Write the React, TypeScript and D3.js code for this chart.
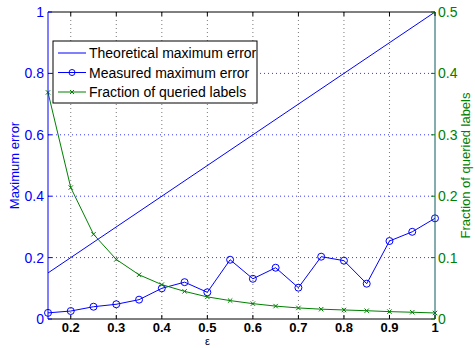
import { useEffect, useRef } from 'react';
import * as d3 from 'd3';

// epsilon values along the x axis
const epsilons = [0.15, 0.2, 0.25, 0.3, 0.35, 0.4, 0.45, 0.5, 0.55, 0.6, 0.65, 0.7, 0.75, 0.8, 0.85, 0.9, 0.95, 1.0];
const measuredError = [0.02, 0.026, 0.04, 0.048, 0.063, 0.1, 0.12, 0.087, 0.193, 0.131, 0.167, 0.102, 0.203, 0.19, 0.115, 0.254, 0.284, 0.328];
const queriedFraction = [0.369, 0.214, 0.138, 0.097, 0.072, 0.056, 0.045, 0.036, 0.03, 0.025, 0.021, 0.018, 0.016, 0.0147, 0.0135, 0.012, 0.011, 0.0098];
const xTicks = [0.2, 0.3, 0.4, 0.5, 0.6, 0.7, 0.8, 0.9, 1];
const leftTicks = [0, 0.2, 0.4, 0.6, 0.8, 1];
const rightTicks = [0, 0.1, 0.2, 0.3, 0.4, 0.5];
const legendLabels = ['Theoretical maximum error', 'Measured maximum error', 'Fraction of queried labels'];

const BLUE = '#0000ff';
const GREEN = '#008000';
const FONT = '"Liberation Sans", Arial, Helvetica, sans-serif';

const W = 475;
const H = 348;
const margin = { top: 12, right: 40, bottom: 29, left: 48 };

const App = () => {
  const svgRef = useRef<SVGSVGElement>(null);

  useEffect(() => {
    if (!svgRef.current) return;
    const svg = d3.select(svgRef.current);
    svg.selectAll('*').remove();

    const innerWidth = W - margin.left - margin.right;
    const innerHeight = H - margin.top - margin.bottom;

    const x = d3.scaleLinear().domain([0.15, 1]).range([0, innerWidth]);
    const yL = d3.scaleLinear().domain([0, 1]).range([innerHeight, 0]);
    const yR = d3.scaleLinear().domain([0, 0.5]).range([innerHeight, 0]);

    svg.append('rect').attr('width', W).attr('height', H).attr('fill', 'white');

    const g = svg.append('g').attr('transform', `translate(${margin.left},${margin.top})`);

    // grid lines
    g.selectAll('.vgrid')
      .data(xTicks.filter(t => t < 1))
      .enter().append('line')
      .attr('x1', d => x(d)).attr('x2', d => x(d))
      .attr('y1', 0).attr('y2', innerHeight)
      .attr('stroke', '#555')
      .attr('stroke-width', 0.8)
      .attr('stroke-dasharray', '1,3');

    g.selectAll('.hgrid')
      .data(leftTicks.filter(t => t > 0 && t < 1))
      .enter().append('line')
      .attr('x1', 0).attr('x2', innerWidth)
      .attr('y1', d => yL(d)).attr('y2', d => yL(d))
      .attr('stroke', BLUE)
      .attr('stroke-width', 0.8)
      .attr('stroke-dasharray', '1,3');

    // theoretical line
    const line = d3.line<[number, number]>().x(d => x(d[0])).y(d => yL(d[1]));
    g.append('path')
      .datum([[0.15, 0.15], [1, 1]] as [number, number][])
      .attr('fill', 'none').attr('stroke', BLUE).attr('stroke-width', 1)
      .attr('d', line);

    // measured error
    const measured = epsilons.map((e, i) => [e, measuredError[i]] as [number, number]);
    g.append('path')
      .datum(measured)
      .attr('fill', 'none').attr('stroke', BLUE).attr('stroke-width', 1)
      .attr('d', line);
    g.selectAll('.circ')
      .data(measured)
      .enter().append('circle')
      .attr('cx', d => x(d[0])).attr('cy', d => yL(d[1]))
      .attr('r', 3.5)
      .attr('fill', 'none').attr('stroke', BLUE).attr('stroke-width', 1);

    // queried fraction
    const fracLine = d3.line<[number, number]>().x(d => x(d[0])).y(d => yR(d[1]));
    const frac = epsilons.map((e, i) => [e, queriedFraction[i]] as [number, number]);
    g.append('path')
      .datum(frac)
      .attr('fill', 'none').attr('stroke', GREEN).attr('stroke-width', 1)
      .attr('d', fracLine);
    const cross = (sel: any, s: number) =>
      sel.append('path')
        .attr('d', (d: [number, number]) => {
          const cx = x(d[0]), cy = yR(d[1]);
          return `M${cx - s},${cy - s}L${cx + s},${cy + s}M${cx - s},${cy + s}L${cx + s},${cy - s}`;
        })
        .attr('stroke', GREEN).attr('stroke-width', 1);
    cross(g.selectAll('.xm').data(frac).enter(), 2.2);

    // frame
    g.append('line').attr('x1', 0).attr('x2', innerWidth).attr('y1', 0).attr('y2', 0).attr('stroke', 'black');
    g.append('line').attr('x1', 0).attr('x2', innerWidth).attr('y1', innerHeight).attr('y2', innerHeight).attr('stroke', 'black');
    g.append('line').attr('x1', 0).attr('x2', 0).attr('y1', 0).attr('y2', innerHeight).attr('stroke', BLUE);
    g.append('line').attr('x1', innerWidth).attr('x2', innerWidth).attr('y1', 0).attr('y2', innerHeight).attr('stroke', '#0a5a60');

    // x ticks
    g.selectAll('.xt')
      .data(xTicks)
      .enter().append('line')
      .attr('x1', d => x(d)).attr('x2', d => x(d))
      .attr('y1', innerHeight).attr('y2', innerHeight - 4)
      .attr('stroke', 'black');
    g.selectAll('.xtt')
      .data(xTicks)
      .enter().append('line')
      .attr('x1', d => x(d)).attr('x2', d => x(d))
      .attr('y1', 0).attr('y2', 4)
      .attr('stroke', 'black');
    g.selectAll('.xl')
      .data(xTicks)
      .enter().append('text')
      .attr('x', d => x(d)).attr('y', innerHeight + 12.5)
      .attr('text-anchor', 'middle')
      .attr('font-family', FONT).attr('font-size', 13).attr('font-weight', 'bold')
      .attr('fill', 'black')
      .text(d => String(d));

    // left ticks
    g.selectAll('.lt')
      .data(leftTicks)
      .enter().append('line')
      .attr('x1', 0).attr('x2', 4)
      .attr('y1', d => yL(d)).attr('y2', d => yL(d))
      .attr('stroke', BLUE);
    g.selectAll('.ll')
      .data(leftTicks)
      .enter().append('text')
      .attr('x', -4).attr('y', d => yL(d) + 5)
      .attr('text-anchor', 'end')
      .attr('font-family', FONT).attr('font-size', 14)
      .attr('fill', BLUE)
      .text(d => String(d));

    // right ticks
    g.selectAll('.rt')
      .data(rightTicks)
      .enter().append('line')
      .attr('x1', innerWidth - 4).attr('x2', innerWidth)
      .attr('y1', d => yR(d)).attr('y2', d => yR(d))
      .attr('stroke', GREEN);
    g.selectAll('.rl')
      .data(rightTicks)
      .enter().append('text')
      .attr('x', innerWidth + 3).attr('y', d => yR(d) + 5)
      .attr('text-anchor', 'start')
      .attr('font-family', FONT).attr('font-size', 14)
      .attr('fill', GREEN)
      .text(d => String(d));

    // axis titles
    svg.append('text')
      .attr('transform', `translate(19,${margin.top + innerHeight / 2}) rotate(-90)`)
      .attr('text-anchor', 'middle')
      .attr('font-family', FONT).attr('font-size', 13)
      .attr('fill', BLUE)
      .text('Maximum error');
    svg.append('text')
      .attr('transform', `translate(470,${margin.top + innerHeight / 2}) rotate(-90)`)
      .attr('text-anchor', 'middle')
      .attr('font-family', FONT).attr('font-size', 13)
      .attr('fill', GREEN)
      .text('Fraction of queried labels');
    svg.append('text')
      .attr('x', margin.left + x(0.5)).attr('y', 345)
      .attr('text-anchor', 'middle')
      .attr('font-family', FONT).attr('font-size', 11)
      .attr('fill', 'black')
      .text('ε');

    // legend
    const lg = svg.append('g').attr('transform', 'translate(53,41)');
    lg.append('rect')
      .attr('width', 204).attr('height', 62)
      .attr('fill', 'white').attr('stroke', 'black').attr('stroke-width', 1);
    legendLabels.forEach((label, i) => {
      const cy = 12 + i * 19.5;
      const color = i === 2 ? GREEN : BLUE;
      lg.append('line').attr('x1', 5).attr('x2', 33).attr('y1', cy).attr('y2', cy)
        .attr('stroke', color).attr('stroke-width', 1);
      if (i === 1) {
        lg.append('circle').attr('cx', 19).attr('cy', cy).attr('r', 3)
          .attr('fill', 'none').attr('stroke', BLUE);
      }
      if (i === 2) {
        lg.append('path')
          .attr('d', `M${17},${cy - 2}L${21},${cy + 2}M${17},${cy + 2}L${21},${cy - 2}`)
          .attr('stroke', GREEN);
      }
      lg.append('text')
        .attr('x', 36).attr('y', cy + 5)
        .attr('font-family', FONT).attr('font-size', 14)
        .attr('fill', 'black')
        .text(label);
    });
  }, []);

  return (
    <div style={{ position: 'absolute', left: 0, top: 0 }}>
      <svg ref={svgRef} width={W} height={H} style={{ display: 'block' }} />
    </div>
  );
};

export default App;
